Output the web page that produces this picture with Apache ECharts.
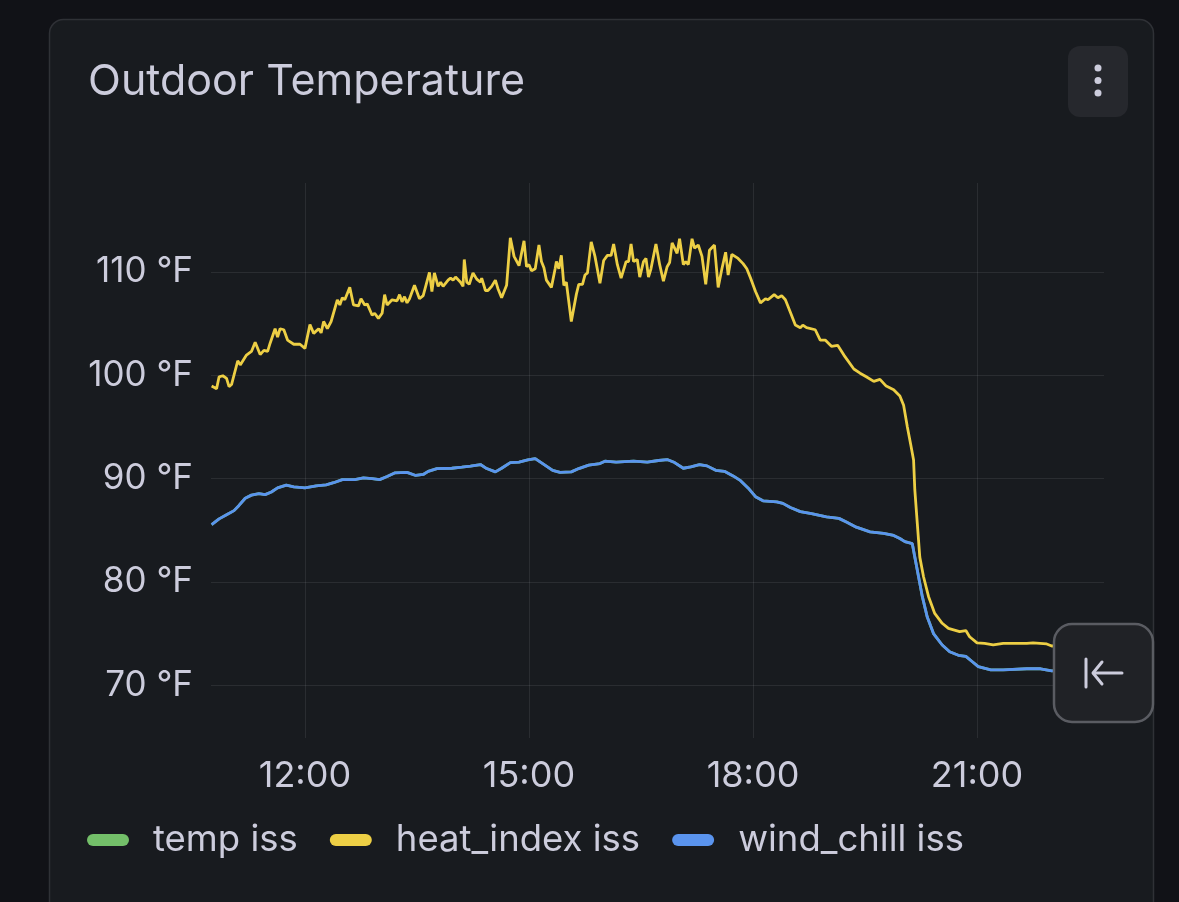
<!DOCTYPE html>
<html>
<head>
<meta charset="utf-8">
<script src="https://cdn.jsdelivr.net/npm/echarts@6/dist/echarts.min.js"></script>
<style>
  html, body { margin: 0; padding: 0; background: #111217; }
  #chart { width: 1179px; height: 902px; }
</style>
</head>
<body>
<div id="chart"></div>
<script>
// ---- data ----
const seriesNames = ['temp iss', 'heat_index iss', 'wind_chill iss'];
const xTickLabels = ['12:00', '15:00', '18:00', '21:00'];
const yTickValues = [70, 80, 90, 100, 110];

const heatTimes = ['10:45','10:49','10:51','10:54','10:57','10:59','11:01','11:06','11:08','11:13','11:17','11:20','11:24','11:27','11:30','11:32','11:36','11:38','11:40','11:43','11:46','11:51','11:56','12:00','12:04','12:07','12:11','12:13','12:15','12:18','12:21','12:26','12:28','12:30','12:32','12:36','12:39','12:43','12:45','12:48','12:50','12:54','12:56','12:59','13:02','13:04','13:06','13:10','13:14','13:16','13:18','13:20','13:22','13:24','13:28','13:32','13:35','13:40','13:42','13:44','13:47','13:49','13:51','13:55','13:57','13:59','14:01','14:05','14:07','14:08','14:10','14:12','14:15','14:18','14:21','14:22','14:25','14:27','14:30','14:33','14:35','14:38','14:42','14:45','14:48','14:52','14:56','14:58','15:00','15:02','15:05','15:08','15:10','15:12','15:14','15:18','15:21','15:22','15:24','15:26','15:28','15:30','15:34','15:38','15:40','15:43','15:45','15:47','15:50','15:53','15:57','16:00','16:03','16:06','16:08','16:11','16:14','16:18','16:20','16:22','16:24','16:27','16:29','16:32','16:34','16:36','16:38','16:42','16:45','16:48','16:51','16:53','16:55','16:59','17:01','17:04','17:06','17:08','17:11','17:13','17:16','17:19','17:22','17:25','17:29','17:32','17:35','17:38','17:40','17:43','17:48','17:52','17:55','17:58','18:02','18:06','18:10','18:12','18:17','18:20','18:23','18:26','18:30','18:34','18:38','18:40','18:43','18:50','18:54','18:58','19:03','19:08','19:13','19:21','19:26','19:31','19:37','19:42','19:47','19:53','19:58','20:01','20:04','20:07','20:09','20:10','20:12','20:14','20:17','20:21','20:26','20:32','20:37','20:46','20:51','20:54','21:00','21:06','21:13','21:21','21:40','21:45','21:56','22:00','22:20','22:40'];
const heatIndex = [98.95,98.7,99.85,99.95,99.7,98.9,99.1,101.4,101.0,101.95,102.3,103.2,102.0,102.4,102.3,103.1,104.5,103.7,104.5,104.4,103.4,103.0,103.0,102.6,104.9,104.05,104.5,104.1,105.2,104.5,105.2,107.3,106.8,107.5,107.3,108.5,106.8,106.7,107.4,106.8,106.9,105.8,106.0,105.5,106.0,107.8,106.8,107.3,107.2,107.8,107.1,107.6,107.0,107.4,108.7,107.4,107.7,109.95,108.1,109.9,108.6,109.0,108.6,109.2,109.4,109.2,109.5,109.0,108.6,111.2,109.0,108.8,109.9,109.3,109.0,109.4,108.2,108.2,108.6,109.2,108.4,107.5,108.7,113.3,111.5,110.6,113.0,110.5,110.7,110.1,110.3,112.6,111.0,110.4,109.2,108.5,110.3,111.0,110.3,111.6,108.7,109.0,105.2,107.8,108.8,108.8,109.7,109.9,112.9,111.5,108.9,111.1,111.6,111.6,112.7,110.7,109.4,111.0,111.0,112.7,111.0,111.2,109.5,111.0,111.3,109.5,110.3,112.7,110.7,109.1,110.5,110.9,112.8,111.8,113.2,110.7,111.0,110.7,113.2,112.3,112.6,111.5,108.8,112.1,112.6,108.5,110.3,111.9,109.7,111.7,111.3,110.8,110.3,109.4,108.1,107.0,107.4,107.3,107.8,107.5,107.7,107.3,106.1,104.85,104.6,104.85,104.6,104.4,103.4,103.4,102.8,102.9,101.95,100.6,100.2,99.85,99.4,99.6,98.95,98.6,98.0,97.1,95.0,93.1,91.8,88.9,85.65,82.4,80.5,78.6,76.95,76.0,75.5,75.2,75.3,74.7,74.1,74.05,73.9,74.05,74.05,74.1,74.0,73.8,73.9,73.9];

const chillTimes = ['10:45','10:51','10:57','11:03','11:07','11:12','11:17','11:23','11:28','11:33','11:38','11:45','11:51','12:00','12:09','12:17','12:23','12:30','12:40','12:47','12:54','13:00','13:06','13:12','13:22','13:29','13:35','13:39','13:46','13:58','14:06','14:13','14:21','14:26','14:33','14:38','14:45','14:52','14:59','15:05','15:11','15:19','15:25','15:34','15:40','15:48','15:57','16:01','16:10','16:24','16:35','16:44','16:51','16:57','17:04','17:10','17:17','17:23','17:30','17:37','17:44','17:50','17:56','18:02','18:08','18:19','18:24','18:30','18:38','18:47','18:59','19:09','19:15','19:23','19:34','19:45','19:53','19:58','20:02','20:08','20:10','20:13','20:16','20:20','20:25','20:32','20:38','20:45','20:51','20:56','21:01','21:11','21:21','21:40','21:51','22:00','22:20','22:40'];
const windChill = [85.55,86.1,86.5,86.9,87.4,88.1,88.4,88.55,88.45,88.7,89.1,89.36,89.2,89.1,89.3,89.4,89.6,89.9,89.9,90.07,90.0,89.9,90.2,90.55,90.6,90.3,90.4,90.7,90.97,91.0,91.1,91.2,91.36,90.97,90.65,91.0,91.55,91.6,91.8,91.94,91.45,90.8,90.6,90.65,90.97,91.3,91.45,91.68,91.6,91.68,91.6,91.75,91.84,91.55,91.0,91.13,91.36,91.23,90.8,90.7,90.26,89.8,89.1,88.25,87.85,87.75,87.6,87.2,86.8,86.6,86.3,86.15,85.8,85.3,84.85,84.7,84.5,84.2,83.9,83.7,82.4,80.5,78.6,76.6,75.0,73.9,73.24,72.9,72.8,72.3,71.8,71.5,71.5,71.6,71.6,71.4,71.5,71.5];

// temp iss is fully hidden beneath wind_chill iss (identical readings above 50 °F)
const tempTimes = chillTimes;
const tempIss = windChill;

// ---- helpers ----
function toMin(s) { const p = s.split(':'); return (+p[0]) * 60 + (+p[1]); }
function fmt(m) { const h = Math.floor(m / 60), mm = Math.round(m % 60); return String(h).padStart(2, '0') + ':' + String(mm).padStart(2, '0'); }
function pairs(times, vals) { return times.map((t, i) => [toMin(t), vals[i]]); }
const xTickValues = xTickLabels.map(toMin);

const TXT = '#ccccdc';
const FONT = 'Inter, "Noto Sans", sans-serif';
const colors = ['#73BF69', '#EDCF45', '#5A94EE'];
const PILL = 'path://M6,0 H36 A6,6 0 0 1 36,12 H6 A6,6 0 0 1 6,0 Z';

const chart = echarts.init(document.getElementById('chart'), null, { renderer: 'canvas' });
chart.setOption({
  animation: false,
  backgroundColor: '#111217',
  textStyle: { fontFamily: FONT },
  title: {
    text: 'Outdoor Temperature',
    left: 83, top: 56,
    textStyle: { color: TXT, fontSize: 43, fontWeight: 400, fontFamily: FONT }
  },
  graphic: [
    { type: 'rect', z: -10, shape: { x: 49.5, y: 19.5, width: 1104, height: 920, r: 14 },
      style: { fill: '#181b1f', stroke: '#2f3136', lineWidth: 1.5 } },
    { type: 'rect', z: 10, shape: { x: 1068, y: 46, width: 60, height: 71, r: 12 },
      style: { fill: '#26282d' } },
    { type: 'circle', z: 11, shape: { cx: 1098, cy: 68, r: 3.5 }, style: { fill: TXT } },
    { type: 'circle', z: 11, shape: { cx: 1098, cy: 80.5, r: 3.5 }, style: { fill: TXT } },
    { type: 'circle', z: 11, shape: { cx: 1098, cy: 93, r: 3.5 }, style: { fill: TXT } },
    { type: 'rect', z: 100, shape: { x: 1054, y: 624, width: 99, height: 98, r: 18 },
      style: { fill: '#202226', stroke: '#5a5c62', lineWidth: 2.5 } },
    { type: 'line', z: 101, shape: { x1: 1086, y1: 659, x2: 1086, y2: 687 },
      style: { stroke: TXT, lineWidth: 3, lineCap: 'round' } },
    { type: 'line', z: 101, shape: { x1: 1094, y1: 673, x2: 1122, y2: 673 },
      style: { stroke: TXT, lineWidth: 3, lineCap: 'round' } },
    { type: 'polyline', z: 101, shape: { points: [[1102, 662], [1093, 673], [1102, 684]] },
      style: { stroke: TXT, lineWidth: 3, lineCap: 'round', lineJoin: 'round', fill: 'none' } }
  ],
  legend: {
    left: 82, top: 813,
    icon: PILL,
    itemWidth: 42, itemHeight: 12,
    itemGap: 32,
    data: seriesNames,
    textStyle: { color: TXT, fontSize: 36.5, fontFamily: FONT, padding: [0, 0, 0, 19], lineHeight: 44 }
  },
  grid: { left: 211, right: 75, top: 183, bottom: 164, containLabel: false },
  xAxis: {
    type: 'value',
    min: 644.5, max: 1362,
    axisLine: { show: false },
    axisTick: { show: false, customValues: xTickValues },
    axisLabel: {
      customValues: xTickValues,
      formatter: v => fmt(v),
      color: TXT, fontSize: 36, fontFamily: FONT, margin: 20
    },
    splitLine: { show: true, lineStyle: { color: 'rgba(204,204,220,0.1)', width: 1 } }
  },
  yAxis: {
    type: 'value',
    min: 64.9, max: 118.6,
    axisLine: { show: false },
    axisTick: { show: false, customValues: yTickValues },
    axisLabel: {
      customValues: yTickValues,
      formatter: '{value} °F',
      color: TXT, fontSize: 35, fontFamily: FONT, margin: 18
    },
    splitLine: { show: true, lineStyle: { color: 'rgba(204,204,220,0.1)', width: 1 } }
  },
  series: [
    { name: seriesNames[0], type: 'line', data: pairs(tempTimes, tempIss), showSymbol: false,
      color: colors[0], lineStyle: { width: 2.8, color: colors[0] }, z: 2 },
    { name: seriesNames[1], type: 'line', data: pairs(heatTimes, heatIndex), showSymbol: false,
      color: colors[1], lineStyle: { width: 2.8, color: colors[1] }, z: 3 },
    { name: seriesNames[2], type: 'line', data: pairs(chillTimes, windChill), showSymbol: false,
      color: colors[2], lineStyle: { width: 2.8, color: colors[2] }, z: 4 }
  ]
});
</script>
</body>
</html>
